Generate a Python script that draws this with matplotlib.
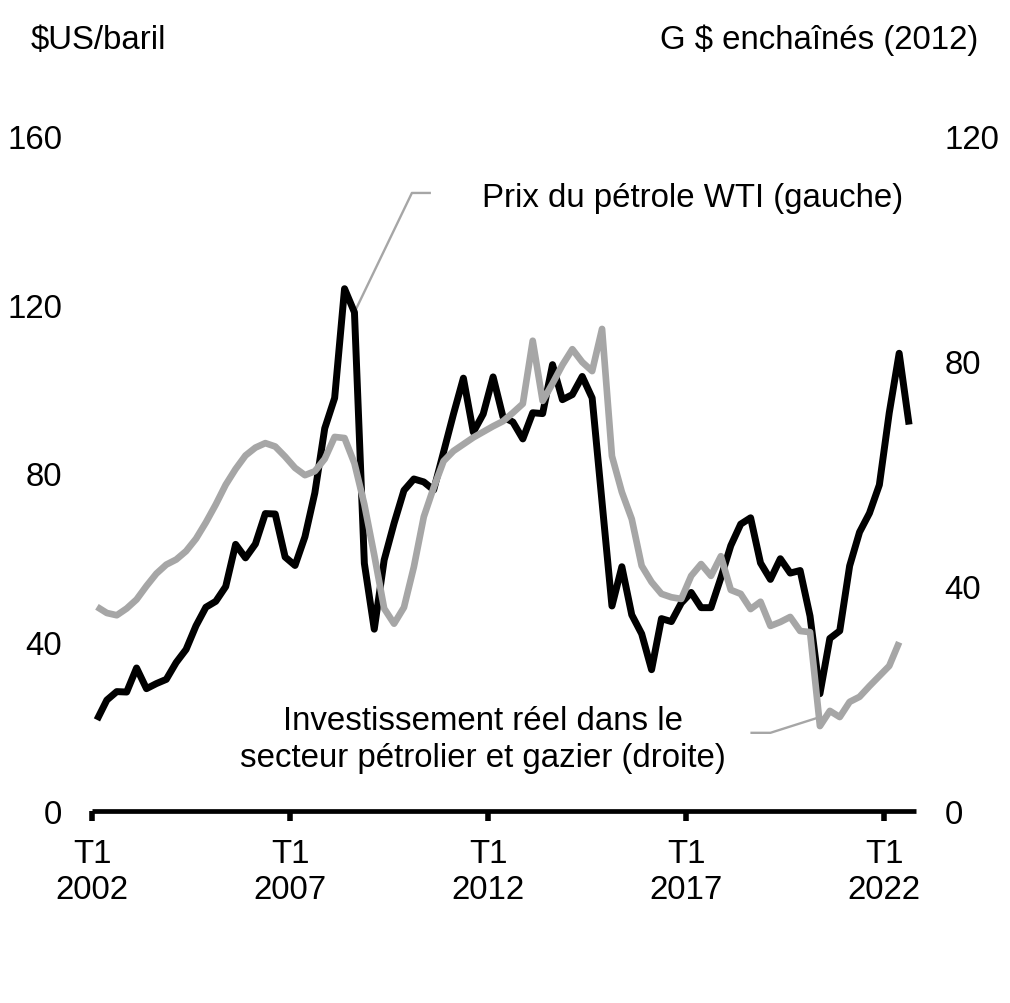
import matplotlib
matplotlib.use("Agg")
import matplotlib.pyplot as plt

plt.rcParams['font.family'] = ['Liberation Sans', 'DejaVu Sans']

# Quarterly data, T1 2002 .. T3 2022
wti = [21.6, 26.3, 28.3, 28.2,
       33.9, 29.0, 30.2, 31.2,
       35.2, 38.3, 43.9, 48.3,
       49.7, 53.2, 63.2, 60.0,
       63.3, 70.5, 70.4, 60.2,
       58.2, 65.0, 75.4, 90.7,
       97.9, 123.8, 118.2, 58.7,
       43.1, 59.5, 68.2, 76.0,
       78.7, 78.0, 76.1, 85.1,
       94.1, 102.6, 89.8, 94.1,
       102.9, 93.4, 92.2, 88.2,
       94.4, 94.2, 105.8, 97.5,
       98.7, 103.0, 97.9, 73.2,
       48.6, 57.9, 46.5, 42.0,
       33.5, 45.6, 44.9, 49.3,
       51.8, 48.2, 48.2, 55.3,
       62.9, 68.0, 69.5, 58.8,
       54.9, 59.8, 56.4, 57.0,
       46.2, 27.8, 40.9, 42.7,
       58.1, 66.1, 70.6, 77.3,
       94.4, 108.5, 91.6]

invest = [36.3, 35.2, 34.8, 36.0,
          37.6, 40.0, 42.2, 43.8,
          44.7, 46.2, 48.4, 51.3,
          54.5, 58.0, 60.8, 63.2,
          64.6, 65.4, 64.8, 63.0,
          61.0, 59.7, 60.4, 62.6,
          66.5, 66.3, 61.8, 54.5,
          45.5, 36.0, 33.3, 36.2,
          43.4, 52.3, 57.5, 62.2,
          64.0, 65.2, 66.4, 67.4,
          68.4, 69.3, 70.8, 72.4,
          83.6, 72.9, 76.0, 79.3,
          82.1, 79.8, 78.2, 85.7,
          63.1, 56.7, 51.9, 43.6,
          40.7, 38.6, 38.0, 37.7,
          41.8, 43.9, 41.8, 45.3,
          39.3, 38.6, 35.9, 37.2,
          32.9, 33.6, 34.5, 32.0,
          31.8, 15.1, 17.8, 16.7,
          19.4, 20.3, 22.2, 24.0,
          25.8, 30.0]

first_year = 2002
tick_years = [2002, 2007, 2012, 2017, 2022]
tick_labels = [f"T1\n{y}" for y in tick_years]
left_ticks = [0, 40, 80, 120, 160]
right_ticks = [0, 40, 80, 120]

FS = 23.8
GREY = '#A6A6A6'

W, H = 1010, 1004
fig = plt.figure(figsize=(W / 100, H / 100), dpi=100)
ax = fig.add_axes([92 / W, (H - 812) / H, 824 / W, 675 / H])
ax2 = ax.twinx()

x_wti = list(range(len(wti)))
x_inv = list(range(len(invest)))

ax.plot(x_wti, wti, color='black', lw=5.0, solid_joinstyle='round',
        solid_capstyle='butt', zorder=3)
ax2.plot(x_inv, invest, color=GREY, lw=4.8, solid_joinstyle='round',
         solid_capstyle='butt', zorder=3)

ax.set_xlim(-0.5, 82.7)
ax.set_ylim(0, 160)
ax2.set_ylim(0, 120)

tick_pos = [(y - first_year) * 4 - 0.5 for y in tick_years]
ax.set_xticks(tick_pos)
ax.set_xticklabels(tick_labels, fontsize=FS, linespacing=1.2)
ax.set_yticks(left_ticks)
ax.set_yticklabels([str(v) for v in left_ticks], fontsize=FS)
ax2.set_yticks(right_ticks)
ax2.set_yticklabels([str(v) for v in right_ticks], fontsize=FS)

for a in (ax, ax2):
    for s in ('top', 'left', 'right'):
        a.spines[s].set_visible(False)
ax2.spines['bottom'].set_visible(False)
ax.spines['bottom'].set_linewidth(3.4)
ax.spines['bottom'].set_capstyle('butt')

ax.tick_params(axis='x', direction='out', length=7, width=4, pad=12.5, colors='black')
ax.tick_params(axis='y', length=0, pad=21.5)
ax2.tick_params(axis='y', length=0, pad=20.5)

# Axis unit labels
fig.text(31 / W, 1 - 49 / H, "\\$US/baril", ha='left', va='baseline', fontsize=FS)
fig.text(978 / W, 1 - 49 / H, "G \\$ enchaînés (2012)", ha='right', va='baseline', fontsize=FS)

# Annotation: WTI
ax.plot([26, 31.8, 33.6], [wti[26], 146.5, 146.5], color=GREY, lw=1.7, zorder=2)
ax.text(38.9, 143.4, "Prix du pétrole WTI (gauche)", ha='left', va='baseline', fontsize=FS)

# Annotation: investment
ax2.plot([66.1, 68.0, 73.0], [13.9, 13.9, 16.7], color=GREY, lw=1.7, zorder=2)
ax.text(39.0, 19.5, "Investissement réel dans le", ha='center', va='baseline', fontsize=FS)
ax.text(39.0, 10.6, "secteur pétrolier et gazier (droite)", ha='center', va='baseline', fontsize=FS)

fig.savefig("out.png", dpi=100)
